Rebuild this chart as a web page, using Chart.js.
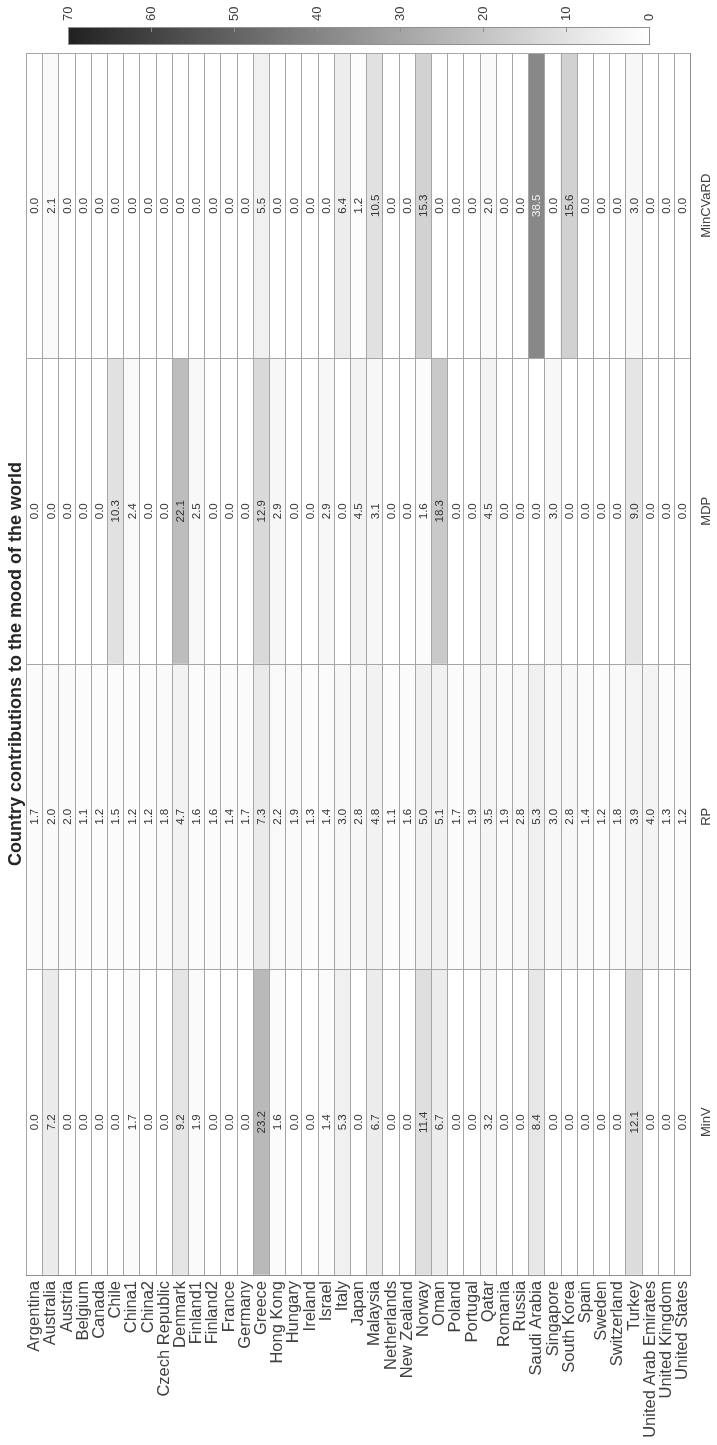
<!DOCTYPE html>
<html>
<head>
<meta charset="utf-8">
<script src="https://cdn.jsdelivr.net/npm/chart.js@4.4.1/dist/chart.umd.min.js"></script>
<style>
  html, body { margin: 0; padding: 0; background: #ffffff; }
  #wrap { position: relative; width: 717px; height: 1445px; }
</style>
</head>
<body>
<div id="wrap"><canvas id="heat" width="717" height="1445"></canvas></div>
<script>
// Countries along the horizontal axis
const countries = [
  'Argentina', 'Australia', 'Austria', 'Belgium', 'Canada', 'Chile', 'China1', 'China2',
  'Czech Republic', 'Denmark', 'Finland1', 'Finland2', 'France', 'Germany', 'Greece',
  'Hong Kong', 'Hungary', 'Ireland', 'Israel', 'Italy', 'Japan', 'Malaysia', 'Netherlands',
  'New Zealand', 'Norway', 'Oman', 'Poland', 'Portugal', 'Qatar', 'Romania', 'Russia',
  'Saudi Arabia', 'Singapore', 'South Korea', 'Spain', 'Sweden', 'Switzerland', 'Turkey',
  'United Arab Emirates', 'United Kingdom', 'United States'
];

// Portfolio methods, bottom row first
const methods = ['MinV', 'RP', 'MDP', 'MinCVaRD'];

// Contribution (%) of each country, one array per method
const minV = [0.0, 7.2, 0.0, 0.0, 0.0, 0.0, 1.7, 0.0, 0.0, 9.2, 1.9, 0.0, 0.0, 0.0, 23.2,
  1.6, 0.0, 0.0, 1.4, 5.3, 0.0, 6.7, 0.0, 0.0, 11.4, 6.7, 0.0, 0.0, 3.2, 0.0, 0.0,
  8.4, 0.0, 0.0, 0.0, 0.0, 0.0, 12.1, 0.0, 0.0, 0.0];
const rp = [1.7, 2.0, 2.0, 1.1, 1.2, 1.5, 1.2, 1.2, 1.8, 4.7, 1.6, 1.6, 1.4, 1.7, 7.3,
  2.2, 1.9, 1.3, 1.4, 3.0, 2.8, 4.8, 1.1, 1.6, 5.0, 5.1, 1.7, 1.9, 3.5, 1.9, 2.8,
  5.3, 3.0, 2.8, 1.4, 1.2, 1.8, 3.9, 4.0, 1.3, 1.2];
const mdp = [0.0, 0.0, 0.0, 0.0, 0.0, 10.3, 2.4, 0.0, 0.0, 22.1, 2.5, 0.0, 0.0, 0.0, 12.9,
  2.9, 0.0, 0.0, 2.9, 0.0, 4.5, 3.1, 0.0, 0.0, 1.6, 18.3, 0.0, 0.0, 4.5, 0.0, 0.0,
  0.0, 3.0, 0.0, 0.0, 0.0, 0.0, 9.0, 0.0, 0.0, 0.0];
const minCVaRD = [0.0, 2.1, 0.0, 0.0, 0.0, 0.0, 0.0, 0.0, 0.0, 0.0, 0.0, 0.0, 0.0, 0.0, 5.5,
  0.0, 0.0, 0.0, 0.0, 6.4, 1.2, 10.5, 0.0, 0.0, 15.3, 0.0, 0.0, 0.0, 2.0, 0.0, 0.0,
  38.5, 0.0, 15.6, 0.0, 0.0, 0.0, 3.0, 0.0, 0.0, 0.0];

const methodValues = [minV, rp, mdp, minCVaRD];

// Colour scale range and its tick labels
const colorMin = 0;
const colorMax = 70;
const colorbarTicks = [0, 10, 20, 30, 40, 50, 60, 70];

const FONT = "'Liberation Sans', Arial, Helvetica, sans-serif";

// Grey colormap: white for zero, dark for large contributions
function shadeLevel(v) {
  const t = Math.max(0, Math.min(1, (v - colorMin) / (colorMax - colorMin)));
  return Math.round(255 - 222 * Math.pow(t, 1.05));
}
function shade(v) {
  const g = shadeLevel(v);
  return `rgb(${g},${g},${g})`;
}

// Each cell is a floating bar spanning one row of the method axis
const datasets = methods.map((m, r) => ({
  label: m,
  data: countries.map(() => [r, r + 1]),
  backgroundColor: methodValues[r].map(shade),
  borderWidth: 0,
  grouped: false,
  categoryPercentage: 1.0,
  barPercentage: 1.0
}));

const GRID = '#a6a6a6';
const EDGE = '#8f8f8f';
const TEXT = '#404040';

// Draws the cell values, the method labels and the colour bar
const heatmapDecor = {
  id: 'heatmapDecor',
  afterDraw(chart) {
    const ctx = chart.ctx;
    const xs = chart.scales.x;
    const ys = chart.scales.y;
    const cb = chart.scales.cb;

    // cell values
    ctx.save();
    ctx.font = `11.5px ${FONT}`;
    ctx.textAlign = 'center';
    ctx.textBaseline = 'middle';
    methodValues.forEach((vals, r) => {
      const cy = ys.getPixelForValue(r + 0.5);
      vals.forEach((v, i) => {
        const cx = xs.getPixelForValue(i);
        ctx.save();
        ctx.translate(cx + 0.5, cy);
        ctx.rotate(-Math.PI / 2);
        ctx.fillStyle = shadeLevel(v) < 150 ? '#f0f0f0' : '#363636';
        ctx.fillText(v.toFixed(1), 0, 0);
        ctx.restore();
      });
    });
    ctx.restore();

    // method labels on the right
    ctx.save();
    ctx.font = `13px ${FONT}`;
    ctx.fillStyle = TEXT;
    ctx.textAlign = 'center';
    ctx.textBaseline = 'middle';
    const lx = chart.chartArea.right + 16;
    methods.forEach((m, r) => {
      const cy = ys.getPixelForValue(r + 0.5);
      ctx.save();
      ctx.translate(lx, cy);
      ctx.rotate(-Math.PI / 2);
      ctx.fillText(m, 0, 0);
      ctx.restore();
    });
    ctx.restore();

    // colour bar
    const x0 = cb.getPixelForValue(colorMax);
    const x1 = cb.getPixelForValue(colorMin);
    const top = 27, bottom = 44;
    const grad = ctx.createLinearGradient(x0, 0, x1, 0);
    for (let k = 0; k <= 28; k++) {
      const v = colorMax - (colorMax - colorMin) * k / 28;
      grad.addColorStop(k / 28, shade(v));
    }
    ctx.save();
    ctx.fillStyle = grad;
    ctx.fillRect(x0, top, x1 - x0, bottom - top);
    ctx.strokeStyle = EDGE;
    ctx.lineWidth = 1;
    ctx.strokeRect(Math.round(x0) + 0.5, top + 0.5, Math.round(x1 - x0), bottom - top);
    ctx.font = `13px ${FONT}`;
    ctx.fillStyle = TEXT;
    ctx.textAlign = 'left';
    ctx.textBaseline = 'middle';
    colorbarTicks.forEach(t => {
      const px = Math.round(cb.getPixelForValue(t)) + 0.5;
      if (t !== colorMin && t !== colorMax) {
        ctx.beginPath();
        ctx.moveTo(px, top);
        ctx.lineTo(px, top + 5);
        ctx.stroke();
      }
      ctx.save();
      ctx.translate(px, top - 6);
      ctx.rotate(-Math.PI / 2);
      ctx.fillText(String(t), 0, 0);
      ctx.restore();
    });
    ctx.restore();
  }
};

new Chart(document.getElementById('heat'), {
  type: 'bar',
  data: { labels: countries, datasets },
  options: {
    responsive: false,
    devicePixelRatio: 1,
    animation: false,
    layout: { padding: 0 },
    plugins: {
      legend: { display: false },
      tooltip: { enabled: false },
      title: {
        display: true,
        text: 'Country contributions to the mood of the world',
        position: 'left',
        fullSize: false,
        color: '#262626',
        font: { family: FONT, size: 18, weight: 'bold', lineHeight: 1.2 },
        padding: { top: 5, bottom: 0 }
      }
    },
    scales: {
      x: {
        type: 'category',
        position: 'bottom',
        offset: true,
        grid: { offset: true, color: GRID, lineWidth: 1, drawTicks: false, z: 1 },
        border: { color: EDGE, z: 2 },
        ticks: {
          autoSkip: false,
          minRotation: 90,
          maxRotation: 90,
          padding: 6,
          color: TEXT,
          font: { family: FONT, size: 16.5 }
        },
        afterFit(s) { s.height = 170; }
      },
      cb: {
        type: 'linear',
        axis: 'x',
        position: 'top',
        min: colorMin,
        max: colorMax,
        reverse: true,
        grid: { display: false },
        border: { display: false },
        ticks: { display: false },
        afterFit(s) { s.height = 53; }
      },
      y: {
        type: 'linear',
        position: 'right',
        min: 0,
        max: methods.length,
        grid: { color: GRID, lineWidth: 1, drawTicks: false, z: 1 },
        border: { color: EDGE, z: 2 },
        ticks: { display: false, stepSize: 1 },
        afterFit(s) { s.width = 26.3; }
      }
    }
  },
  plugins: [heatmapDecor]
});
</script>
</body>
</html>
